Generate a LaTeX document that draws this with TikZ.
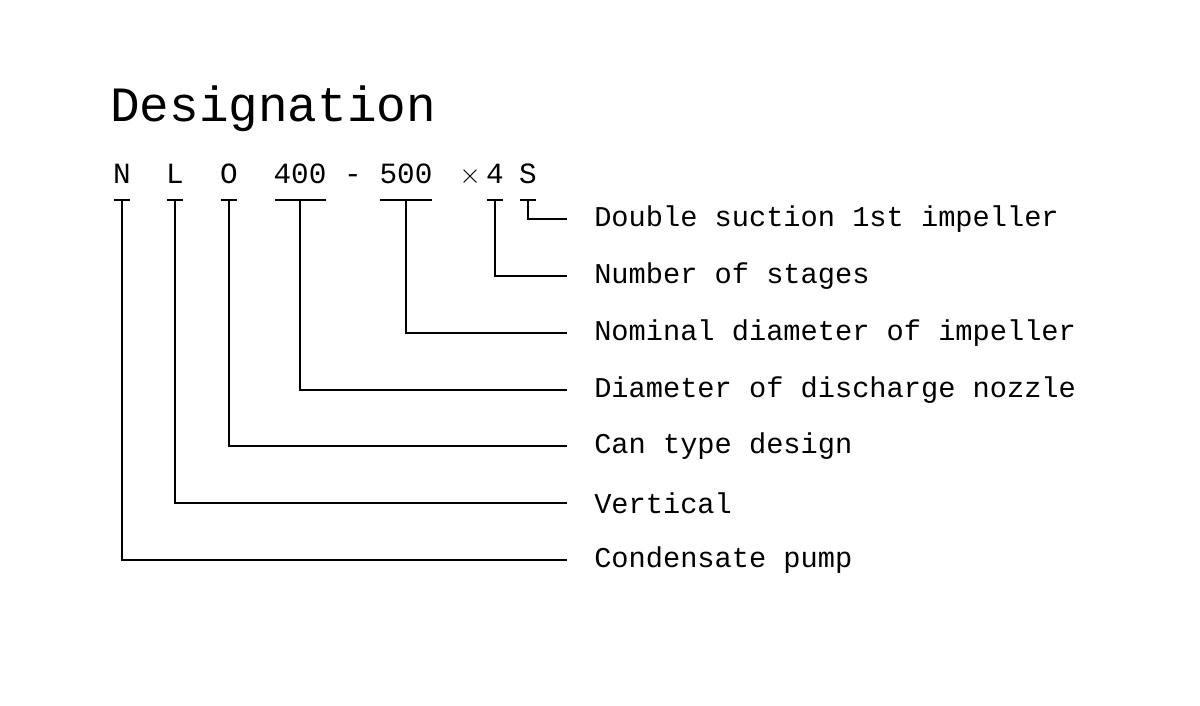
\documentclass[tikz,border=0pt]{standalone}
\usepackage{fontspec}
\setmainfont{Liberation Mono}
\begin{document}
\begin{tikzpicture}[x=0.75pt,y=-0.75pt,
  code/.style={inner sep=0pt,anchor=base,font=\fontsize{22}{24}\selectfont},
  lab/.style={inner sep=0pt,anchor=west,font=\fontsize{21.5}{24}\selectfont},
  ln/.style={line width=0.9pt,black}]
\useasboundingbox (0,0) rectangle (1200,706);
\node[inner sep=0pt,anchor=base west,font=\fontsize{37}{40}\selectfont] (title) at (110,122) {Designation};
\node[code] (cN) at (122,184) {N};
\node[code] (cL) at (175,184) {L};
\node[code] (cO) at (229,184) {O};
\node[code] (c400) at (300,184) {400};
\node[code] (cd) at (353,184) {-};
\node[code] (c500) at (406,184) {500};
\node[code] (cx) at (470,184) {$\times$};
\node[code] (c4) at (495,184) {4};
\node[code] (cS) at (528,184) {S};
\node[lab] (l1) at (594,219) {Double suction 1st impeller};
\node[lab] (l2) at (594,276) {Number of stages};
\node[lab] (l3) at (594,333) {Nominal diameter of impeller};
\node[lab] (l4) at (594,390) {Diameter of discharge nozzle};
\node[lab] (l5) at (594,446) {Can type design};
\node[lab] (l6) at (594,503) {Vertical};
\node[lab] (l7) at (594,560) {Condensate pump};
\foreach \x/\a/\b/\y/\l in {122/114/130/560/l7,175/167/183/503/l6,229/221/237/446/l5,300/275/326/390/l4,406/380/432/333/l3,495/487/503/276/l2,528/520/536/219/l1}{
  \draw[ln] (\a,200) -- (\b,200);
  \draw[ln] (\x,200) |- ([xshift=-20pt]\l.west);
}
\end{tikzpicture}
\end{document}
